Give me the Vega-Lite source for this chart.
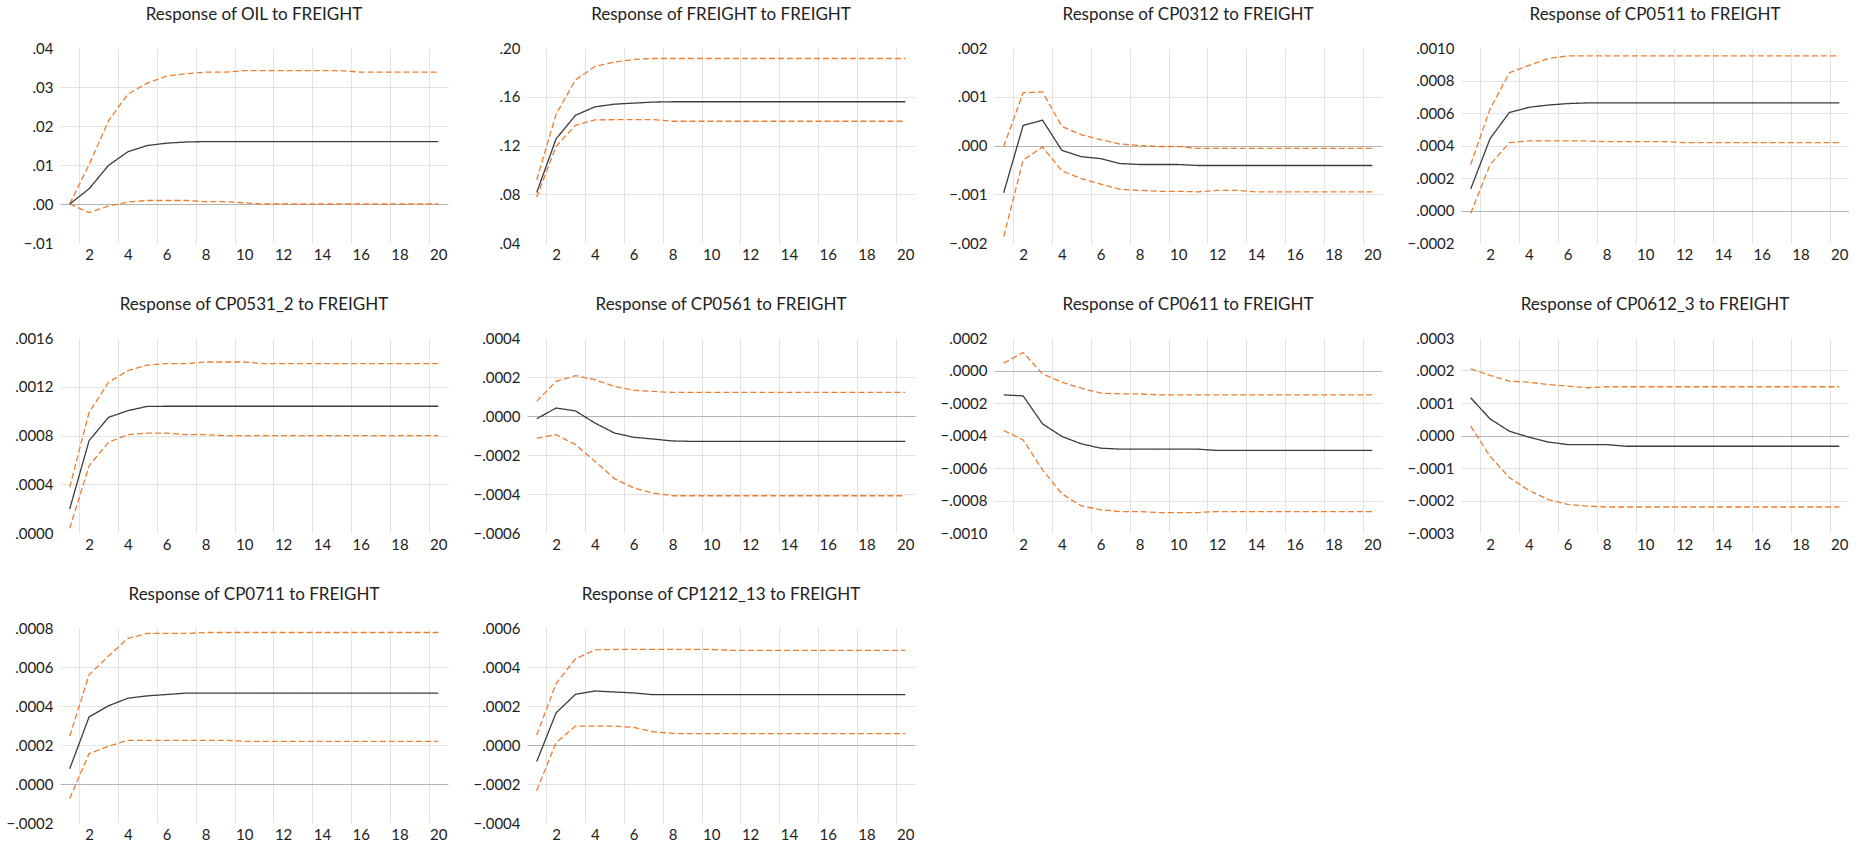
{
"$schema": "https://vega.github.io/schema/vega-lite/v6.json",
"padding": {"left": 0, "top": 6, "right": 0, "bottom": 0},
"background": "white",
"spacing": {"row": 31, "column": 19},
"columns": 4,
"data": {"values": [
{"v":"OIL","t":1,"r":0,"lo":0,"hi":0},
{"v":"OIL","t":2,"r":0.0039,"lo":-0.0022,"hi":0.0101},
{"v":"OIL","t":3,"r":0.0099,"lo":-0.0005,"hi":0.0213},
{"v":"OIL","t":4,"r":0.0134,"lo":0.0005,"hi":0.0282},
{"v":"OIL","t":5,"r":0.0150,"lo":0.0009,"hi":0.0310},
{"v":"OIL","t":6,"r":0.0156,"lo":0.0009,"hi":0.0328},
{"v":"OIL","t":7,"r":0.0159,"lo":0.0009,"hi":0.0334},
{"v":"OIL","t":8,"r":0.0160,"lo":0.0006,"hi":0.0338},
{"v":"OIL","t":9,"r":0.0160,"lo":0.0006,"hi":0.0338},
{"v":"OIL","t":10,"r":0.0160,"lo":0.0003,"hi":0.0342},
{"v":"OIL","t":11,"r":0.0160,"lo":0,"hi":0.0342},
{"v":"OIL","t":12,"r":0.0160,"lo":0,"hi":0.0342},
{"v":"OIL","t":13,"r":0.0160,"lo":0,"hi":0.0342},
{"v":"OIL","t":14,"r":0.0160,"lo":0,"hi":0.0342},
{"v":"OIL","t":15,"r":0.0160,"lo":0,"hi":0.0342},
{"v":"OIL","t":16,"r":0.0160,"lo":0,"hi":0.0338},
{"v":"OIL","t":17,"r":0.0160,"lo":0,"hi":0.0338},
{"v":"OIL","t":18,"r":0.0160,"lo":0,"hi":0.0338},
{"v":"OIL","t":19,"r":0.0160,"lo":0,"hi":0.0338},
{"v":"OIL","t":20,"r":0.0160,"lo":0,"hi":0.0338},
{"v":"FREIGHT","t":1,"r":0.0814,"lo":0.0775,"hi":0.0919},
{"v":"FREIGHT","t":2,"r":0.1255,"lo":0.1194,"hi":0.1457},
{"v":"FREIGHT","t":3,"r":0.1448,"lo":0.1366,"hi":0.1738},
{"v":"FREIGHT","t":4,"r":0.1517,"lo":0.1410,"hi":0.1848},
{"v":"FREIGHT","t":5,"r":0.1539,"lo":0.1412,"hi":0.1884},
{"v":"FREIGHT","t":6,"r":0.1548,"lo":0.1412,"hi":0.1906},
{"v":"FREIGHT","t":7,"r":0.1556,"lo":0.1412,"hi":0.1914},
{"v":"FREIGHT","t":8,"r":0.1559,"lo":0.1399,"hi":0.1914},
{"v":"FREIGHT","t":9,"r":0.1559,"lo":0.1399,"hi":0.1914},
{"v":"FREIGHT","t":10,"r":0.1559,"lo":0.1399,"hi":0.1914},
{"v":"FREIGHT","t":11,"r":0.1559,"lo":0.1399,"hi":0.1914},
{"v":"FREIGHT","t":12,"r":0.1559,"lo":0.1399,"hi":0.1914},
{"v":"FREIGHT","t":13,"r":0.1559,"lo":0.1399,"hi":0.1914},
{"v":"FREIGHT","t":14,"r":0.1559,"lo":0.1399,"hi":0.1914},
{"v":"FREIGHT","t":15,"r":0.1559,"lo":0.1399,"hi":0.1914},
{"v":"FREIGHT","t":16,"r":0.1559,"lo":0.1399,"hi":0.1914},
{"v":"FREIGHT","t":17,"r":0.1559,"lo":0.1399,"hi":0.1914},
{"v":"FREIGHT","t":18,"r":0.1559,"lo":0.1399,"hi":0.1914},
{"v":"FREIGHT","t":19,"r":0.1559,"lo":0.1399,"hi":0.1914},
{"v":"FREIGHT","t":20,"r":0.1559,"lo":0.1399,"hi":0.1914},
{"v":"CP0312","t":1,"r":-0.00097,"lo":-0.00187,"hi":-0.00002},
{"v":"CP0312","t":2,"r":0.00041,"lo":-0.00030,"hi":0.00108},
{"v":"CP0312","t":3,"r":0.00052,"lo":-0.00003,"hi":0.00110},
{"v":"CP0312","t":4,"r":-0.00010,"lo":-0.00052,"hi":0.00039},
{"v":"CP0312","t":5,"r":-0.00023,"lo":-0.00068,"hi":0.00022},
{"v":"CP0312","t":6,"r":-0.00027,"lo":-0.00079,"hi":0.00012},
{"v":"CP0312","t":7,"r":-0.00037,"lo":-0.00090,"hi":0.00003},
{"v":"CP0312","t":8,"r":-0.00039,"lo":-0.00092,"hi":0.00000},
{"v":"CP0312","t":9,"r":-0.00039,"lo":-0.00094,"hi":-0.00002},
{"v":"CP0312","t":10,"r":-0.00039,"lo":-0.00094,"hi":-0.00002},
{"v":"CP0312","t":11,"r":-0.00041,"lo":-0.00095,"hi":-0.00006},
{"v":"CP0312","t":12,"r":-0.00041,"lo":-0.00092,"hi":-0.00006},
{"v":"CP0312","t":13,"r":-0.00041,"lo":-0.00092,"hi":-0.00006},
{"v":"CP0312","t":14,"r":-0.00041,"lo":-0.00095,"hi":-0.00006},
{"v":"CP0312","t":15,"r":-0.00041,"lo":-0.00095,"hi":-0.00006},
{"v":"CP0312","t":16,"r":-0.00041,"lo":-0.00095,"hi":-0.00006},
{"v":"CP0312","t":17,"r":-0.00041,"lo":-0.00095,"hi":-0.00006},
{"v":"CP0312","t":18,"r":-0.00041,"lo":-0.00095,"hi":-0.00006},
{"v":"CP0312","t":19,"r":-0.00041,"lo":-0.00095,"hi":-0.00006},
{"v":"CP0312","t":20,"r":-0.00041,"lo":-0.00095,"hi":-0.00006},
{"v":"CP0511","t":1,"r":0.000132,"lo":-0.000017,"hi":0.000283},
{"v":"CP0511","t":2,"r":0.000443,"lo":0.000283,"hi":0.000625},
{"v":"CP0511","t":3,"r":0.000604,"lo":0.000418,"hi":0.000848},
{"v":"CP0511","t":4,"r":0.000635,"lo":0.000428,"hi":0.000893},
{"v":"CP0511","t":5,"r":0.000649,"lo":0.000428,"hi":0.000935},
{"v":"CP0511","t":6,"r":0.000658,"lo":0.000428,"hi":0.000951},
{"v":"CP0511","t":7,"r":0.000662,"lo":0.000428,"hi":0.000951},
{"v":"CP0511","t":8,"r":0.000662,"lo":0.000424,"hi":0.000951},
{"v":"CP0511","t":9,"r":0.000662,"lo":0.000424,"hi":0.000951},
{"v":"CP0511","t":10,"r":0.000662,"lo":0.000424,"hi":0.000951},
{"v":"CP0511","t":11,"r":0.000662,"lo":0.000424,"hi":0.000951},
{"v":"CP0511","t":12,"r":0.000662,"lo":0.000418,"hi":0.000951},
{"v":"CP0511","t":13,"r":0.000662,"lo":0.000418,"hi":0.000951},
{"v":"CP0511","t":14,"r":0.000662,"lo":0.000418,"hi":0.000951},
{"v":"CP0511","t":15,"r":0.000662,"lo":0.000418,"hi":0.000951},
{"v":"CP0511","t":16,"r":0.000662,"lo":0.000418,"hi":0.000951},
{"v":"CP0511","t":17,"r":0.000662,"lo":0.000418,"hi":0.000951},
{"v":"CP0511","t":18,"r":0.000662,"lo":0.000418,"hi":0.000951},
{"v":"CP0511","t":19,"r":0.000662,"lo":0.000418,"hi":0.000951},
{"v":"CP0511","t":20,"r":0.000662,"lo":0.000418,"hi":0.000951},
{"v":"CP0531_2","t":1,"r":0.000197,"lo":0.000038,"hi":0.000375},
{"v":"CP0531_2","t":2,"r":0.000758,"lo":0.000552,"hi":0.00099},
{"v":"CP0531_2","t":3,"r":0.000949,"lo":0.000744,"hi":0.001236},
{"v":"CP0531_2","t":4,"r":0.001004,"lo":0.000807,"hi":0.001332},
{"v":"CP0531_2","t":5,"r":0.001039,"lo":0.00082,"hi":0.001378},
{"v":"CP0531_2","t":6,"r":0.00104,"lo":0.00082,"hi":0.00139},
{"v":"CP0531_2","t":7,"r":0.00104,"lo":0.000807,"hi":0.00139},
{"v":"CP0531_2","t":8,"r":0.00104,"lo":0.000807,"hi":0.001403},
{"v":"CP0531_2","t":9,"r":0.00104,"lo":0.000799,"hi":0.001403},
{"v":"CP0531_2","t":10,"r":0.00104,"lo":0.000799,"hi":0.001403},
{"v":"CP0531_2","t":11,"r":0.00104,"lo":0.000799,"hi":0.00139},
{"v":"CP0531_2","t":12,"r":0.00104,"lo":0.000799,"hi":0.00139},
{"v":"CP0531_2","t":13,"r":0.00104,"lo":0.000799,"hi":0.00139},
{"v":"CP0531_2","t":14,"r":0.00104,"lo":0.000799,"hi":0.00139},
{"v":"CP0531_2","t":15,"r":0.00104,"lo":0.000799,"hi":0.00139},
{"v":"CP0531_2","t":16,"r":0.00104,"lo":0.000799,"hi":0.00139},
{"v":"CP0531_2","t":17,"r":0.00104,"lo":0.000799,"hi":0.00139},
{"v":"CP0531_2","t":18,"r":0.00104,"lo":0.000799,"hi":0.00139},
{"v":"CP0531_2","t":19,"r":0.00104,"lo":0.000799,"hi":0.00139},
{"v":"CP0531_2","t":20,"r":0.00104,"lo":0.000799,"hi":0.00139},
{"v":"CP0561","t":1,"r":-0.000014,"lo":-0.000113,"hi":0.000075},
{"v":"CP0561","t":2,"r":0.000041,"lo":-0.000096,"hi":0.000178},
{"v":"CP0561","t":3,"r":0.000026,"lo":-0.000147,"hi":0.000207},
{"v":"CP0561","t":4,"r":-0.000036,"lo":-0.000232,"hi":0.000186},
{"v":"CP0561","t":5,"r":-0.000087,"lo":-0.000321,"hi":0.000152},
{"v":"CP0561","t":6,"r":-0.000109,"lo":-0.000369,"hi":0.000132},
{"v":"CP0561","t":7,"r":-0.000118,"lo":-0.000395,"hi":0.000126},
{"v":"CP0561","t":8,"r":-0.000128,"lo":-0.000409,"hi":0.000121},
{"v":"CP0561","t":9,"r":-0.00013,"lo":-0.000409,"hi":0.000121},
{"v":"CP0561","t":10,"r":-0.00013,"lo":-0.000409,"hi":0.000121},
{"v":"CP0561","t":11,"r":-0.00013,"lo":-0.000409,"hi":0.000121},
{"v":"CP0561","t":12,"r":-0.00013,"lo":-0.000409,"hi":0.000121},
{"v":"CP0561","t":13,"r":-0.00013,"lo":-0.000409,"hi":0.000121},
{"v":"CP0561","t":14,"r":-0.00013,"lo":-0.000409,"hi":0.000121},
{"v":"CP0561","t":15,"r":-0.00013,"lo":-0.000409,"hi":0.000121},
{"v":"CP0561","t":16,"r":-0.00013,"lo":-0.000409,"hi":0.000121},
{"v":"CP0561","t":17,"r":-0.00013,"lo":-0.000409,"hi":0.000121},
{"v":"CP0561","t":18,"r":-0.00013,"lo":-0.000409,"hi":0.000121},
{"v":"CP0561","t":19,"r":-0.00013,"lo":-0.000409,"hi":0.000121},
{"v":"CP0561","t":20,"r":-0.00013,"lo":-0.000409,"hi":0.000121},
{"v":"CP0611","t":1,"r":-0.00015,"lo":-0.000369,"hi":0.000045},
{"v":"CP0611","t":2,"r":-0.000156,"lo":-0.000427,"hi":0.000111},
{"v":"CP0611","t":3,"r":-0.000328,"lo":-0.000611,"hi":-0.000021},
{"v":"CP0611","t":4,"r":-0.000406,"lo":-0.000759,"hi":-0.000072},
{"v":"CP0611","t":5,"r":-0.000451,"lo":-0.000833,"hi":-0.000109},
{"v":"CP0611","t":6,"r":-0.000478,"lo":-0.000857,"hi":-0.000139},
{"v":"CP0611","t":7,"r":-0.000484,"lo":-0.000868,"hi":-0.000144},
{"v":"CP0611","t":8,"r":-0.000484,"lo":-0.000868,"hi":-0.000144},
{"v":"CP0611","t":9,"r":-0.000484,"lo":-0.000874,"hi":-0.00015},
{"v":"CP0611","t":10,"r":-0.000484,"lo":-0.000874,"hi":-0.00015},
{"v":"CP0611","t":11,"r":-0.000484,"lo":-0.000874,"hi":-0.00015},
{"v":"CP0611","t":12,"r":-0.000492,"lo":-0.000868,"hi":-0.00015},
{"v":"CP0611","t":13,"r":-0.000492,"lo":-0.000868,"hi":-0.00015},
{"v":"CP0611","t":14,"r":-0.000492,"lo":-0.000868,"hi":-0.00015},
{"v":"CP0611","t":15,"r":-0.000492,"lo":-0.000868,"hi":-0.00015},
{"v":"CP0611","t":16,"r":-0.000492,"lo":-0.000868,"hi":-0.00015},
{"v":"CP0611","t":17,"r":-0.000492,"lo":-0.000868,"hi":-0.00015},
{"v":"CP0611","t":18,"r":-0.000492,"lo":-0.000868,"hi":-0.00015},
{"v":"CP0611","t":19,"r":-0.000492,"lo":-0.000868,"hi":-0.00015},
{"v":"CP0611","t":20,"r":-0.000492,"lo":-0.000868,"hi":-0.00015},
{"v":"CP0612_3","t":1,"r":0.000116,"lo":0.000029,"hi":0.000205},
{"v":"CP0612_3","t":2,"r":0.000051,"lo":-0.000064,"hi":0.000185},
{"v":"CP0612_3","t":3,"r":0.000013,"lo":-0.00013,"hi":0.000167},
{"v":"CP0612_3","t":4,"r":-0.000005,"lo":-0.000169,"hi":0.000164},
{"v":"CP0612_3","t":5,"r":-0.00002,"lo":-0.000197,"hi":0.000157},
{"v":"CP0612_3","t":6,"r":-0.000028,"lo":-0.000212,"hi":0.000152},
{"v":"CP0612_3","t":7,"r":-0.000028,"lo":-0.000217,"hi":0.000147},
{"v":"CP0612_3","t":8,"r":-0.000028,"lo":-0.00022,"hi":0.00015},
{"v":"CP0612_3","t":9,"r":-0.000033,"lo":-0.00022,"hi":0.00015},
{"v":"CP0612_3","t":10,"r":-0.000033,"lo":-0.00022,"hi":0.00015},
{"v":"CP0612_3","t":11,"r":-0.000033,"lo":-0.00022,"hi":0.00015},
{"v":"CP0612_3","t":12,"r":-0.000033,"lo":-0.00022,"hi":0.00015},
{"v":"CP0612_3","t":13,"r":-0.000033,"lo":-0.00022,"hi":0.00015},
{"v":"CP0612_3","t":14,"r":-0.000033,"lo":-0.00022,"hi":0.00015},
{"v":"CP0612_3","t":15,"r":-0.000033,"lo":-0.00022,"hi":0.00015},
{"v":"CP0612_3","t":16,"r":-0.000033,"lo":-0.00022,"hi":0.00015},
{"v":"CP0612_3","t":17,"r":-0.000033,"lo":-0.00022,"hi":0.00015},
{"v":"CP0612_3","t":18,"r":-0.000033,"lo":-0.00022,"hi":0.00015},
{"v":"CP0612_3","t":19,"r":-0.000033,"lo":-0.00022,"hi":0.00015},
{"v":"CP0612_3","t":20,"r":-0.000033,"lo":-0.00022,"hi":0.00015},
{"v":"CP0711","t":1,"r":0.000078,"lo":-0.000075,"hi":0.000245},
{"v":"CP0711","t":2,"r":0.000344,"lo":0.000156,"hi":0.00056},
{"v":"CP0711","t":3,"r":0.000401,"lo":0.000194,"hi":0.000656},
{"v":"CP0711","t":4,"r":0.00044,"lo":0.000224,"hi":0.000747},
{"v":"CP0711","t":5,"r":0.000452,"lo":0.000224,"hi":0.000772},
{"v":"CP0711","t":6,"r":0.000459,"lo":0.000224,"hi":0.000772},
{"v":"CP0711","t":7,"r":0.000466,"lo":0.000224,"hi":0.000772},
{"v":"CP0711","t":8,"r":0.000466,"lo":0.000224,"hi":0.000777},
{"v":"CP0711","t":9,"r":0.000466,"lo":0.000224,"hi":0.000777},
{"v":"CP0711","t":10,"r":0.000466,"lo":0.000219,"hi":0.000777},
{"v":"CP0711","t":11,"r":0.000466,"lo":0.000219,"hi":0.000777},
{"v":"CP0711","t":12,"r":0.000466,"lo":0.000219,"hi":0.000777},
{"v":"CP0711","t":13,"r":0.000466,"lo":0.000219,"hi":0.000777},
{"v":"CP0711","t":14,"r":0.000466,"lo":0.000219,"hi":0.000777},
{"v":"CP0711","t":15,"r":0.000466,"lo":0.000219,"hi":0.000777},
{"v":"CP0711","t":16,"r":0.000466,"lo":0.000219,"hi":0.000777},
{"v":"CP0711","t":17,"r":0.000466,"lo":0.000219,"hi":0.000777},
{"v":"CP0711","t":18,"r":0.000466,"lo":0.000219,"hi":0.000777},
{"v":"CP0711","t":19,"r":0.000466,"lo":0.000219,"hi":0.000777},
{"v":"CP0711","t":20,"r":0.000466,"lo":0.000219,"hi":0.000777},
{"v":"CP1212_13","t":1,"r":-0.000085,"lo":-0.000233,"hi":0.000051},
{"v":"CP1212_13","t":2,"r":0.000165,"lo":0.000012,"hi":0.000315},
{"v":"CP1212_13","t":3,"r":0.00026,"lo":0.000097,"hi":0.000442},
{"v":"CP1212_13","t":4,"r":0.000277,"lo":0.000097,"hi":0.000488},
{"v":"CP1212_13","t":5,"r":0.000272,"lo":0.000097,"hi":0.00049},
{"v":"CP1212_13","t":6,"r":0.000267,"lo":0.00009,"hi":0.00049},
{"v":"CP1212_13","t":7,"r":0.000258,"lo":0.000068,"hi":0.00049},
{"v":"CP1212_13","t":8,"r":0.000258,"lo":0.00006,"hi":0.00049},
{"v":"CP1212_13","t":9,"r":0.000258,"lo":0.000058,"hi":0.00049},
{"v":"CP1212_13","t":10,"r":0.000258,"lo":0.000058,"hi":0.00049},
{"v":"CP1212_13","t":11,"r":0.000258,"lo":0.000058,"hi":0.000485},
{"v":"CP1212_13","t":12,"r":0.000258,"lo":0.000058,"hi":0.000485},
{"v":"CP1212_13","t":13,"r":0.000258,"lo":0.000058,"hi":0.000485},
{"v":"CP1212_13","t":14,"r":0.000258,"lo":0.000058,"hi":0.000485},
{"v":"CP1212_13","t":15,"r":0.000258,"lo":0.000058,"hi":0.000485},
{"v":"CP1212_13","t":16,"r":0.000258,"lo":0.000058,"hi":0.000485},
{"v":"CP1212_13","t":17,"r":0.000258,"lo":0.000058,"hi":0.000485},
{"v":"CP1212_13","t":18,"r":0.000258,"lo":0.000058,"hi":0.000485},
{"v":"CP1212_13","t":19,"r":0.000258,"lo":0.000058,"hi":0.000485},
{"v":"CP1212_13","t":20,"r":0.000258,"lo":0.000058,"hi":0.000485}
]},
"concat": [
{"title": "Response of OIL to FREIGHT", "width": 388, "height": 195,
 "transform": [{"filter": "datum.v == 'OIL'"}, {"fold": ["hi", "lo", "r"], "as": ["s", "val"]}],
 "mark": {"type": "line", "strokeWidth": 1.3},
 "encoding": {
  "x": {"field": "t", "type": "quantitative", "title": null, "scale": {"domain": [0.5, 20.5], "nice": false, "zero": false}, "axis": {"values": [2,4,6,8,10,12,14,16,18,20]}},
  "y": {"field": "val", "type": "quantitative", "title": null, "scale": {"domain": [-0.01, 0.04], "nice": false, "zero": false},
        "axis": {"values": [-0.01, 0, 0.01, 0.02, 0.03, 0.04], "labelExpr": "replace(format(datum.value, '.2f'), '0.', '.')",
                 "gridOpacity": {"condition": {"test": "datum.index == 0 || datum.index == 1", "value": 0}, "value": 1},
                 "gridColor": {"condition": {"test": "datum.value == 0", "value": "#b4b4b4"}, "value": "#e3e3e3"}}},
  "color": {"field": "s", "type": "nominal", "scale": {"domain": ["hi", "lo", "r"], "range": ["#ED7D31", "#ED7D31", "#3c3c3c"]}, "legend": null},
  "strokeDash": {"field": "s", "type": "nominal", "scale": {"domain": ["hi", "lo", "r"], "range": [[6, 3], [6, 3], [1, 0]]}, "legend": null}
 }},
{"title": "Response of FREIGHT to FREIGHT", "width": 388, "height": 195,
 "transform": [{"filter": "datum.v == 'FREIGHT'"}, {"fold": ["hi", "lo", "r"], "as": ["s", "val"]}],
 "mark": {"type": "line", "strokeWidth": 1.3},
 "encoding": {
  "x": {"field": "t", "type": "quantitative", "title": null, "scale": {"domain": [0.5, 20.5], "nice": false, "zero": false}, "axis": {"values": [2,4,6,8,10,12,14,16,18,20]}},
  "y": {"field": "val", "type": "quantitative", "title": null, "scale": {"domain": [0.04, 0.20], "nice": false, "zero": false},
        "axis": {"values": [0.04, 0.08, 0.12, 0.16, 0.20], "labelExpr": "replace(format(datum.value, '.2f'), '0.', '.')",
                 "gridOpacity": {"condition": {"test": "datum.index == 0 || datum.index == 1", "value": 0}, "value": 1},
                 "gridColor": {"condition": {"test": "datum.value == 0", "value": "#b4b4b4"}, "value": "#e3e3e3"}}},
  "color": {"field": "s", "type": "nominal", "scale": {"domain": ["hi", "lo", "r"], "range": ["#ED7D31", "#ED7D31", "#3c3c3c"]}, "legend": null},
  "strokeDash": {"field": "s", "type": "nominal", "scale": {"domain": ["hi", "lo", "r"], "range": [[6, 3], [6, 3], [1, 0]]}, "legend": null}
 }},
{"title": "Response of CP0312 to FREIGHT", "width": 388, "height": 195,
 "transform": [{"filter": "datum.v == 'CP0312'"}, {"fold": ["hi", "lo", "r"], "as": ["s", "val"]}],
 "mark": {"type": "line", "strokeWidth": 1.3},
 "encoding": {
  "x": {"field": "t", "type": "quantitative", "title": null, "scale": {"domain": [0.5, 20.5], "nice": false, "zero": false}, "axis": {"values": [2,4,6,8,10,12,14,16,18,20]}},
  "y": {"field": "val", "type": "quantitative", "title": null, "scale": {"domain": [-0.002, 0.002], "nice": false, "zero": false},
        "axis": {"values": [-0.002, -0.001, 0, 0.001, 0.002], "labelExpr": "replace(format(datum.value, '.3f'), '0.', '.')",
                 "gridOpacity": {"condition": {"test": "datum.index == 0 || datum.index == 1", "value": 0}, "value": 1},
                 "gridColor": {"condition": {"test": "datum.value == 0", "value": "#b4b4b4"}, "value": "#e3e3e3"}}},
  "color": {"field": "s", "type": "nominal", "scale": {"domain": ["hi", "lo", "r"], "range": ["#ED7D31", "#ED7D31", "#3c3c3c"]}, "legend": null},
  "strokeDash": {"field": "s", "type": "nominal", "scale": {"domain": ["hi", "lo", "r"], "range": [[6, 3], [6, 3], [1, 0]]}, "legend": null}
 }},
{"title": "Response of CP0511 to FREIGHT", "width": 388, "height": 195,
 "transform": [{"filter": "datum.v == 'CP0511'"}, {"fold": ["hi", "lo", "r"], "as": ["s", "val"]}],
 "mark": {"type": "line", "strokeWidth": 1.3},
 "encoding": {
  "x": {"field": "t", "type": "quantitative", "title": null, "scale": {"domain": [0.5, 20.5], "nice": false, "zero": false}, "axis": {"values": [2,4,6,8,10,12,14,16,18,20]}},
  "y": {"field": "val", "type": "quantitative", "title": null, "scale": {"domain": [-0.0002, 0.001], "nice": false, "zero": false},
        "axis": {"values": [-0.0002, 0, 0.0002, 0.0004, 0.0006, 0.0008, 0.001], "labelExpr": "replace(format(datum.value, '.4f'), '0.', '.')",
                 "gridOpacity": {"condition": {"test": "datum.index == 0 || datum.index == 1", "value": 0}, "value": 1},
                 "gridColor": {"condition": {"test": "datum.value == 0", "value": "#b4b4b4"}, "value": "#e3e3e3"}}},
  "color": {"field": "s", "type": "nominal", "scale": {"domain": ["hi", "lo", "r"], "range": ["#ED7D31", "#ED7D31", "#3c3c3c"]}, "legend": null},
  "strokeDash": {"field": "s", "type": "nominal", "scale": {"domain": ["hi", "lo", "r"], "range": [[6, 3], [6, 3], [1, 0]]}, "legend": null}
 }},
{"title": "Response of CP0531_2 to FREIGHT", "width": 388, "height": 195,
 "transform": [{"filter": "datum.v == 'CP0531_2'"}, {"fold": ["hi", "lo", "r"], "as": ["s", "val"]}],
 "mark": {"type": "line", "strokeWidth": 1.3},
 "encoding": {
  "x": {"field": "t", "type": "quantitative", "title": null, "scale": {"domain": [0.5, 20.5], "nice": false, "zero": false}, "axis": {"values": [2,4,6,8,10,12,14,16,18,20]}},
  "y": {"field": "val", "type": "quantitative", "title": null, "scale": {"domain": [0, 0.0016], "nice": false, "zero": false},
        "axis": {"values": [0, 0.0004, 0.0008, 0.0012, 0.0016], "labelExpr": "replace(format(datum.value, '.4f'), '0.', '.')",
                 "gridOpacity": {"condition": {"test": "datum.index == 0 || datum.index == 1", "value": 0}, "value": 1},
                 "gridColor": {"condition": {"test": "datum.value == 0", "value": "#b4b4b4"}, "value": "#e3e3e3"}}},
  "color": {"field": "s", "type": "nominal", "scale": {"domain": ["hi", "lo", "r"], "range": ["#ED7D31", "#ED7D31", "#3c3c3c"]}, "legend": null},
  "strokeDash": {"field": "s", "type": "nominal", "scale": {"domain": ["hi", "lo", "r"], "range": [[6, 3], [6, 3], [1, 0]]}, "legend": null}
 }},
{"title": "Response of CP0561 to FREIGHT", "width": 388, "height": 195,
 "transform": [{"filter": "datum.v == 'CP0561'"}, {"fold": ["hi", "lo", "r"], "as": ["s", "val"]}],
 "mark": {"type": "line", "strokeWidth": 1.3},
 "encoding": {
  "x": {"field": "t", "type": "quantitative", "title": null, "scale": {"domain": [0.5, 20.5], "nice": false, "zero": false}, "axis": {"values": [2,4,6,8,10,12,14,16,18,20]}},
  "y": {"field": "val", "type": "quantitative", "title": null, "scale": {"domain": [-0.0006, 0.0004], "nice": false, "zero": false},
        "axis": {"values": [-0.0006, -0.0004, -0.0002, 0, 0.0002, 0.0004], "labelExpr": "replace(format(datum.value, '.4f'), '0.', '.')",
                 "gridOpacity": {"condition": {"test": "datum.index == 0 || datum.index == 1", "value": 0}, "value": 1},
                 "gridColor": {"condition": {"test": "datum.value == 0", "value": "#b4b4b4"}, "value": "#e3e3e3"}}},
  "color": {"field": "s", "type": "nominal", "scale": {"domain": ["hi", "lo", "r"], "range": ["#ED7D31", "#ED7D31", "#3c3c3c"]}, "legend": null},
  "strokeDash": {"field": "s", "type": "nominal", "scale": {"domain": ["hi", "lo", "r"], "range": [[6, 3], [6, 3], [1, 0]]}, "legend": null}
 }},
{"title": "Response of CP0611 to FREIGHT", "width": 388, "height": 195,
 "transform": [{"filter": "datum.v == 'CP0611'"}, {"fold": ["hi", "lo", "r"], "as": ["s", "val"]}],
 "mark": {"type": "line", "strokeWidth": 1.3},
 "encoding": {
  "x": {"field": "t", "type": "quantitative", "title": null, "scale": {"domain": [0.5, 20.5], "nice": false, "zero": false}, "axis": {"values": [2,4,6,8,10,12,14,16,18,20]}},
  "y": {"field": "val", "type": "quantitative", "title": null, "scale": {"domain": [-0.001, 0.0002], "nice": false, "zero": false},
        "axis": {"values": [-0.001, -0.0008, -0.0006, -0.0004, -0.0002, 0, 0.0002], "labelExpr": "replace(format(datum.value, '.4f'), '0.', '.')",
                 "gridOpacity": {"condition": {"test": "datum.index == 0 || datum.index == 1", "value": 0}, "value": 1},
                 "gridColor": {"condition": {"test": "datum.value == 0", "value": "#b4b4b4"}, "value": "#e3e3e3"}}},
  "color": {"field": "s", "type": "nominal", "scale": {"domain": ["hi", "lo", "r"], "range": ["#ED7D31", "#ED7D31", "#3c3c3c"]}, "legend": null},
  "strokeDash": {"field": "s", "type": "nominal", "scale": {"domain": ["hi", "lo", "r"], "range": [[6, 3], [6, 3], [1, 0]]}, "legend": null}
 }},
{"title": "Response of CP0612_3 to FREIGHT", "width": 388, "height": 195,
 "transform": [{"filter": "datum.v == 'CP0612_3'"}, {"fold": ["hi", "lo", "r"], "as": ["s", "val"]}],
 "mark": {"type": "line", "strokeWidth": 1.3},
 "encoding": {
  "x": {"field": "t", "type": "quantitative", "title": null, "scale": {"domain": [0.5, 20.5], "nice": false, "zero": false}, "axis": {"values": [2,4,6,8,10,12,14,16,18,20]}},
  "y": {"field": "val", "type": "quantitative", "title": null, "scale": {"domain": [-0.0003, 0.0003], "nice": false, "zero": false},
        "axis": {"values": [-0.0003, -0.0002, -0.0001, 0, 0.0001, 0.0002, 0.0003], "labelExpr": "replace(format(datum.value, '.4f'), '0.', '.')",
                 "gridOpacity": {"condition": {"test": "datum.index == 0 || datum.index == 1", "value": 0}, "value": 1},
                 "gridColor": {"condition": {"test": "datum.value == 0", "value": "#b4b4b4"}, "value": "#e3e3e3"}}},
  "color": {"field": "s", "type": "nominal", "scale": {"domain": ["hi", "lo", "r"], "range": ["#ED7D31", "#ED7D31", "#3c3c3c"]}, "legend": null},
  "strokeDash": {"field": "s", "type": "nominal", "scale": {"domain": ["hi", "lo", "r"], "range": [[6, 3], [6, 3], [1, 0]]}, "legend": null}
 }},
{"title": "Response of CP0711 to FREIGHT", "width": 388, "height": 195,
 "transform": [{"filter": "datum.v == 'CP0711'"}, {"fold": ["hi", "lo", "r"], "as": ["s", "val"]}],
 "mark": {"type": "line", "strokeWidth": 1.3},
 "encoding": {
  "x": {"field": "t", "type": "quantitative", "title": null, "scale": {"domain": [0.5, 20.5], "nice": false, "zero": false}, "axis": {"values": [2,4,6,8,10,12,14,16,18,20]}},
  "y": {"field": "val", "type": "quantitative", "title": null, "scale": {"domain": [-0.0002, 0.0008], "nice": false, "zero": false},
        "axis": {"values": [-0.0002, 0, 0.0002, 0.0004, 0.0006, 0.0008], "labelExpr": "replace(format(datum.value, '.4f'), '0.', '.')",
                 "gridOpacity": {"condition": {"test": "datum.index == 0 || datum.index == 1", "value": 0}, "value": 1},
                 "gridColor": {"condition": {"test": "datum.value == 0", "value": "#b4b4b4"}, "value": "#e3e3e3"}}},
  "color": {"field": "s", "type": "nominal", "scale": {"domain": ["hi", "lo", "r"], "range": ["#ED7D31", "#ED7D31", "#3c3c3c"]}, "legend": null},
  "strokeDash": {"field": "s", "type": "nominal", "scale": {"domain": ["hi", "lo", "r"], "range": [[6, 3], [6, 3], [1, 0]]}, "legend": null}
 }},
{"title": "Response of CP1212_13 to FREIGHT", "width": 388, "height": 195,
 "transform": [{"filter": "datum.v == 'CP1212_13'"}, {"fold": ["hi", "lo", "r"], "as": ["s", "val"]}],
 "mark": {"type": "line", "strokeWidth": 1.3},
 "encoding": {
  "x": {"field": "t", "type": "quantitative", "title": null, "scale": {"domain": [0.5, 20.5], "nice": false, "zero": false}, "axis": {"values": [2,4,6,8,10,12,14,16,18,20]}},
  "y": {"field": "val", "type": "quantitative", "title": null, "scale": {"domain": [-0.0004, 0.0006], "nice": false, "zero": false},
        "axis": {"values": [-0.0004, -0.0002, 0, 0.0002, 0.0004, 0.0006], "labelExpr": "replace(format(datum.value, '.4f'), '0.', '.')",
                 "gridOpacity": {"condition": {"test": "datum.index == 0 || datum.index == 1", "value": 0}, "value": 1},
                 "gridColor": {"condition": {"test": "datum.value == 0", "value": "#b4b4b4"}, "value": "#e3e3e3"}}},
  "color": {"field": "s", "type": "nominal", "scale": {"domain": ["hi", "lo", "r"], "range": ["#ED7D31", "#ED7D31", "#3c3c3c"]}, "legend": null},
  "strokeDash": {"field": "s", "type": "nominal", "scale": {"domain": ["hi", "lo", "r"], "range": [[6, 3], [6, 3], [1, 0]]}, "legend": null}
 }}
],
"config": {
 "view": {"stroke": null},
 "font": "Lato",
 "axis": {"domain": false, "ticks": false, "grid": true, "gridColor": "#e3e3e3", "gridWidth": 1, "labelFont": "Lato", "labelFontSize": 15, "labelColor": "#222222"},
 "axisX": {"tickOffset": -9.7, "labelOffset": 9.7, "labelPadding": 4, "minExtent": 22, "maxExtent": 22, "labelFlush": false, "labelOverlap": false},
 "axisY": {"labelPadding": 7, "minExtent": 60, "maxExtent": 60, "labelOverlap": false},
 "title": {"font": "Lato", "fontSize": 17, "fontWeight": "normal", "color": "#222222", "offset": 17, "anchor": "middle", "frame": "group"}
}
}
